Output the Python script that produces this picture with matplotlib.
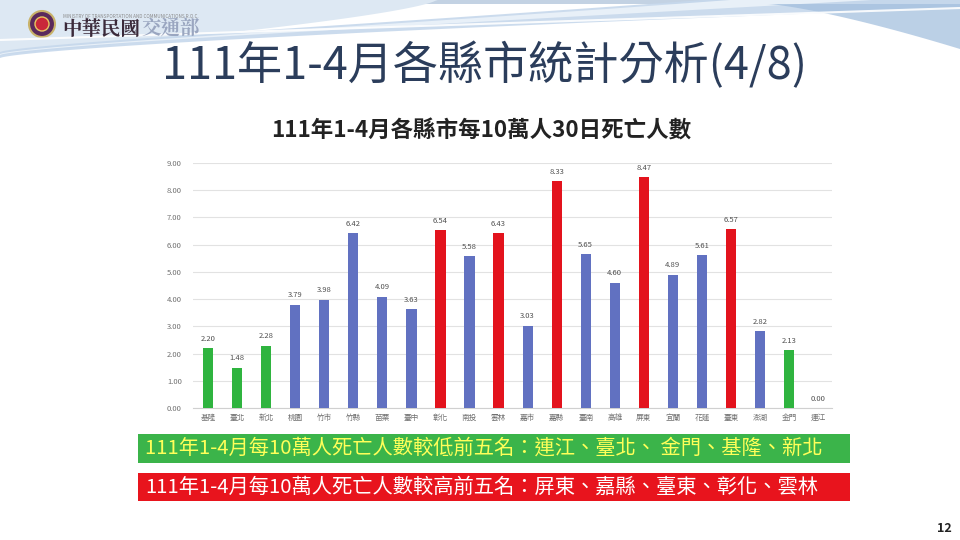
import matplotlib
matplotlib.use('Agg')
import matplotlib.pyplot as plt
import matplotlib as mpl
import numpy as np

plt.rcParams['font.family'] = ['Noto Sans CJK TC', 'DejaVu Sans']

counties = ['基隆', '臺北', '新北', '桃園', '竹市', '竹縣', '苗栗', '臺中', '彰化', '南投', '雲林',
            '嘉市', '嘉縣', '臺南', '高雄', '屏東', '宜蘭', '花蓮', '臺東', '澎湖', '金門', '連江']
deaths = [2.20, 1.48, 2.28, 3.79, 3.98, 6.42, 4.09, 3.63, 6.54, 5.58, 6.43,
          3.03, 8.33, 5.65, 4.60, 8.47, 4.89, 5.61, 6.57, 2.82, 2.13, 0.00]
low5 = ['連江', '臺北', '金門', '基隆', '新北']
high5 = ['屏東', '嘉縣', '臺東', '彰化', '雲林']
yticks = np.arange(0, 9.01, 1.0)

GREEN = '#2fb43f'
BLUE = '#6171c1'
RED = '#e3131d'

W, H = 960, 540
fig = plt.figure(figsize=(9.6, 5.4), dpi=100)


def fx(x):
    return x / W


def fy(y):
    return 1 - y / H


# header swoosh background
bg = fig.add_axes([0, 0, 1, 1], zorder=-10)
bg.set_xlim(0, W)
bg.set_ylim(H, 0)
bg.axis('off')
xs = np.linspace(0, W, 400)
t = xs / W
bg.fill_between(xs, 0, 4, color='#c3d2e3', lw=0)
# soft blue wash on left behind logo
bg.fill_between(xs, 0, 55 * np.clip(1 - t * 2.2, 0, 1) ** 0.7, color='#dde8f3', lw=0)
# swoosh bands rising to the right
band_lo = 58 - 50 * t ** 0.7
band_hi = band_lo - 6 - 22 * t ** 2
bg.fill_between(xs, band_hi, band_lo, color='#c6d8ec', lw=0, alpha=0.9)
inner = band_lo - 3 - 10 * t ** 2
bg.fill_between(xs, band_hi + 2, inner, color='#e8f0f8', lw=0)
right = np.clip((t - 0.8) / 0.2, 0, 1)
bg.fill_between(xs, 4, 4 + 45 * right ** 1.3, color='#9fbcdc', lw=0, alpha=0.7)
bg.plot(xs, 40 - 32 * t, color='#ffffff', lw=1.5, alpha=0.9)

# logo
bg.add_patch(mpl.patches.Circle((42, 24), 13, fc='#5a2a5c', ec='#c9b36a', lw=1.5))
bg.add_patch(mpl.patches.Circle((42, 24), 7, fc='#c9283a', ec='#e8c860', lw=1))
fig.text(fx(63), fy(16), 'MINISTRY OF TRANSPORTATION AND COMMUNICATIONS R.O.C.',
         fontsize=3.3, color='#8a8a8a', va='center', ha='left')
fig.text(fx(62), fy(29), '中華民國', fontsize=14, color='#3b2a3a',
         fontweight='bold', va='center', ha='left', family=['Noto Serif CJK TC', 'Noto Sans CJK TC'])
fig.text(fx(141), fy(29), '交通部', fontsize=14, color='#9aa6c0',
         fontweight='bold', va='center', ha='left', family=['Noto Serif CJK TC', 'Noto Sans CJK TC'])

# main title
fig.text(fx(484), fy(65), '111年1-4月各縣市統計分析(4/8)', fontsize=32.5,
         color='#2b3d5b', ha='center', va='center', fontweight='medium')

# chart
ax = fig.add_axes([fx(193), fy(408), fx(832) - fx(193), fy(163) - fy(408)])
x = np.arange(len(counties))
colors = []
for c in counties:
    if c in low5:
        colors.append(GREEN)
    elif c in high5:
        colors.append(RED)
    else:
        colors.append(BLUE)
bars = ax.bar(x, deaths, width=0.35, color=colors, zorder=3)
for xi, v in zip(x, deaths):
    ax.text(xi, v + 0.2, f'{v:.2f}', ha='center', va='bottom', fontsize=5.5, color='#505050')
ax.set_ylim(0, 9)
ax.set_xlim(-0.52, len(counties) - 0.52)
ax.set_yticks(yticks)
ax.set_yticklabels([f'{t:.2f}' for t in yticks])
ax.set_xticks(x)
ax.set_xticklabels(counties)
ax.tick_params(axis='both', length=0, labelsize=5.5, labelcolor='#707070')
ax.tick_params(axis='y', pad=8)
ax.tick_params(axis='x', pad=4)
ax.grid(axis='y', color='#e2e2e2', lw=0.8, zorder=0)
for s in ['top', 'right', 'left']:
    ax.spines[s].set_visible(False)
ax.spines['bottom'].set_color('#d0d0d0')
ax.spines['bottom'].set_linewidth(0.8)

fig.text(fx(481), fy(131), '111年1-4月各縣市每10萬人30日死亡人數', fontsize=16.2,
         fontweight='bold', color='#222222', ha='center', va='center')

# summary boxes
fig.patches.append(mpl.patches.Rectangle((fx(138), fy(463)), fx(850) - fx(138), fy(434) - fy(463),
                                         transform=fig.transFigure, fc='#3bb44a', ec='none'))
fig.patches.append(mpl.patches.Rectangle((fx(138), fy(501)), fx(850) - fx(138), fy(473) - fy(501),
                                         transform=fig.transFigure, fc='#e8141d', ec='none'))
fig.text(fx(145), fy(448.5), '111年1-4月每10萬人死亡人數較低前五名：連江、臺北、 金門、基隆、新北',
         fontsize=14.6, color='#ffff59', ha='left', va='center')
fig.text(fx(145), fy(487.5), '111年1-4月每10萬人死亡人數較高前五名：屏東、嘉縣、臺東、彰化、雲林',
         fontsize=14.6, color='white', ha='left', va='center')

fig.text(fx(944), fy(528), '12', fontsize=9, fontweight='bold', color='#222222',
         ha='center', va='center')

fig.savefig('out.png', dpi=100)
